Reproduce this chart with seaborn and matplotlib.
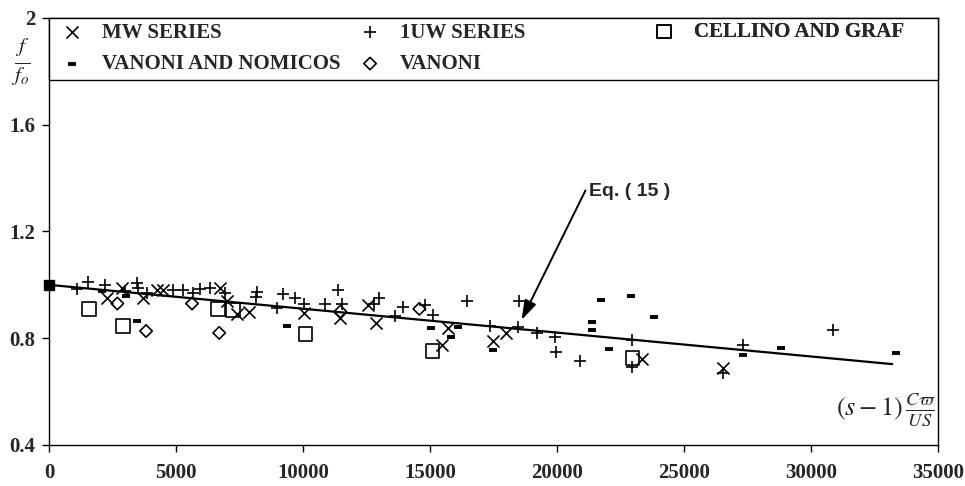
import matplotlib
matplotlib.use("Agg")
import matplotlib.pyplot as plt
from matplotlib.patches import Rectangle
import seaborn as sns
import pandas as pd

# data
mw_x = [2270, 2870, 3710, 4250, 4500, 6740, 7010, 7410, 7880, 10050, 11470, 12570, 12880,
        15480, 15720, 17490, 18010, 23330, 26520]
mw_y = [0.95, 0.99, 0.95, 0.98, 0.98, 0.99, 0.94, 0.89, 0.90, 0.895, 0.875, 0.925, 0.857,
        0.775, 0.838, 0.79, 0.82, 0.722, 0.688]

vn_x = [2090, 3030, 3460, 9380, 15050, 15840, 16100, 17490, 21390, 21390, 21750, 22060,
        22930, 23800, 27340, 28800, 33330]
vn_y = [0.977, 0.96, 0.865, 0.846, 0.838, 0.805, 0.842, 0.756, 0.86, 0.83, 0.943, 0.76,
        0.958, 0.88, 0.737, 0.763, 0.745]

uw_x = [1090, 1540, 2200, 2990, 3460, 3520, 3860, 4890, 5280, 5670, 5950, 6340, 6930, 8150,
        8190, 8980, 9220, 9690, 10050, 10870, 11390, 11540, 12800, 13000, 13630, 13950,
        14820, 15130, 16470, 17380, 18480, 18520, 19230, 19940, 19980, 20920, 22970, 22970,
        26520, 27340, 30850]
uw_y = [0.985, 1.01, 1.0, 0.977, 1.007, 0.99, 0.97, 0.98, 0.98, 0.97, 0.985, 0.99, 0.97,
        0.955, 0.975, 0.913, 0.966, 0.95, 0.93, 0.93, 0.98, 0.93, 0.928, 0.95, 0.883, 0.917,
        0.925, 0.887, 0.94, 0.846, 0.842, 0.94, 0.82, 0.805, 0.748, 0.715, 0.793, 0.692,
        0.67, 0.775, 0.83]

va_x = [2690, 3820, 5630, 6700, 11470, 14580]
va_y = [0.93, 0.827, 0.93, 0.82, 0.90, 0.91]

cg_x = [1580, 2920, 6660, 7250, 10090, 15090, 22970]
cg_y = [0.91, 0.846, 0.91, 0.905, 0.816, 0.752, 0.726]

eq_x = [0, 33200]
eq_y = [1.0, 0.703]

x_ticks = [0, 5000, 10000, 15000, 20000, 25000, 30000, 35000]
y_ticks = [0.4, 0.8, 1.2, 1.6, 2.0]
y_labels = ["0.4", "0.8", "1.2", "1.6", "2"]

sns.set_style("ticks")
plt.rcParams["font.family"] = ["Liberation Serif", "DejaVu Serif"]
plt.rcParams["mathtext.fontset"] = "stix"

fig = plt.figure(figsize=(9.65, 4.86), dpi=100)
ax = fig.add_axes([0.0508, 0.0844, 0.9212, 0.8786])

k = dict(ax=ax, color="black", zorder=3)
sns.scatterplot(x=mw_x, y=mw_y, marker="x", s=75, linewidth=1.2, label="MW SERIES", **k)
sns.scatterplot(x=vn_x, y=vn_y, marker="_", s=30, linewidth=2.8, label="VANONI AND NOMICOS", **k)
sns.scatterplot(x=uw_x, y=uw_y, marker="+", s=85, linewidth=1.2, label="1UW SERIES", **k)
sns.scatterplot(x=va_x, y=va_y, marker="D", s=40, facecolor="none", edgecolor="black",
                linewidth=1.2, label="VANONI", ax=ax, zorder=3)
sns.scatterplot(x=cg_x, y=cg_y, marker="s", s=95, facecolor="none", edgecolor="black",
                linewidth=1.2, label="CELLINO AND GRAF", ax=ax, zorder=3)

eq = pd.DataFrame({"x": eq_x, "y": eq_y})
sns.lineplot(data=eq, x="x", y="y", ax=ax, color="black", linewidth=1.6, zorder=2,
             legend=False, label="_nolegend_")
ax.plot(eq_x[:1], eq_y[:1], marker="s", color="black", markersize=7, zorder=4,
        clip_on=False, label="_nolegend_")

ax.set_xlim(0, 35000)
ax.set_ylim(0.4, 2.0)
ax.set_xticks(x_ticks)
ax.set_yticks(y_ticks)
ax.set_yticklabels(y_labels)
ax.set_xlabel("")
ax.set_ylabel("")
ax.tick_params(axis="both", labelsize=15, length=5, width=1, color="black", pad=5)
ax.tick_params(axis="x", pad=8)
for lab in ax.get_xticklabels() + ax.get_yticklabels():
    lab.set_fontweight("bold")
for s in ax.spines.values():
    s.set_visible(True)
    s.set_color("black")
    s.set_linewidth(1)

# legend box across the top, three columns placed separately
handles, labels = ax.get_legend_handles_labels()
if ax.get_legend() is not None:
    ax.get_legend().remove()
hmap = dict(zip(labels, handles))
ax.add_patch(Rectangle((0, 0.855), 1, 0.145, transform=ax.transAxes, facecolor="white",
                       edgecolor="black", linewidth=1, zorder=5, clip_on=False))
cols = [(["MW SERIES", "VANONI AND NOMICOS"], 0.0142, 0.929),
        (["1UW SERIES", "VANONI"], 0.3494, 0.929),
        (["CELLINO AND GRAF"], 0.680, 0.967)]
for names, lx, ly in cols:
    lg = ax.legend([hmap[n] for n in names], names, loc="center left",
                   bbox_to_anchor=(lx, ly), frameon=False, borderpad=0, borderaxespad=0,
                   handlelength=1.0, handletextpad=0.95, labelspacing=0.55,
                   prop={"family": "Liberation Serif", "weight": "bold", "size": 15})
    lg.set_zorder(6)
    ax.add_artist(lg)

ax.annotate("Eq. ( 15 )", xy=(18600, 0.868), xytext=(21250, 1.35),
            fontsize=14, fontweight="bold", family="Liberation Sans", va="center",
            arrowprops=dict(arrowstyle="-|>,head_length=0.8,head_width=0.25", color="black",
                            lw=1.4, mutation_scale=15, shrinkA=0, shrinkB=0, relpos=(0, 0.95)))

ax.text(32950, 0.53, r"$(s-1)\,\frac{C\varpi}{US}$", fontsize=19, ha="center", va="center")
fig.text(0.021, 0.873, r"$\frac{f}{f_o}$", fontsize=22, ha="center", va="center")

fig.savefig("out.png", dpi=100)
